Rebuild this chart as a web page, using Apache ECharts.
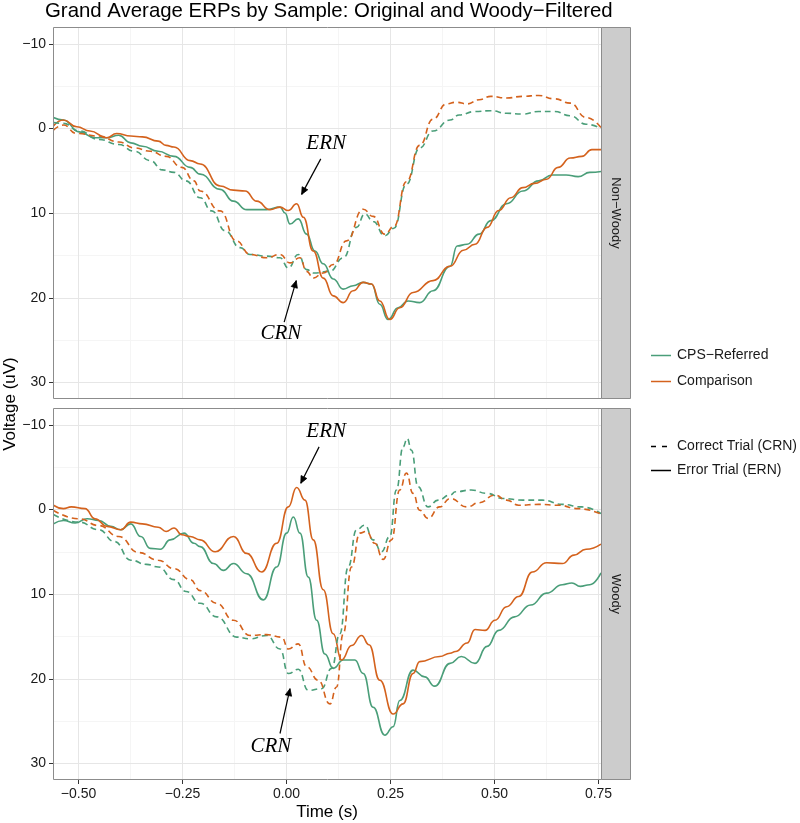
<!DOCTYPE html>
<html><head><meta charset="utf-8">
<script src="https://cdn.jsdelivr.net/npm/echarts@6/dist/echarts.min.js"></script>
<style>html,body{margin:0;padding:0;background:#fff}#c{width:800px;height:823px}</style>
</head><body><div id="c"></div>
<script>
// ---------- data: [time (s), voltage (uV)] ----------
const nonWoodyCpsErn = [[-0.559,-1.3],[-0.535,-1.0],[-0.497,0.4],[-0.459,1.1],[-0.43,1.1],[-0.402,0.8],[-0.373,1.7],[-0.345,2.1],[-0.307,2.7],[-0.269,3.3],[-0.23,4.6],[-0.206,5.4],[-0.158,7.2],[-0.126,8.6],[-0.094,9.6],[-0.046,9.6],[-0.014,9.3],[-0.002,10.0],[0.01,11.3],[0.03,10.7],[0.05,12.5],[0.07,14.5],[0.09,16.0],[0.114,17.8],[0.138,19.0],[0.162,18.6],[0.186,18.2],[0.206,18.4],[0.226,20.8],[0.246,22.6],[0.27,21.2],[0.294,20.4],[0.322,20.6],[0.354,19.2],[0.395,16.3],[0.412,13.9],[0.436,13.7],[0.465,12.5],[0.493,10.9],[0.531,8.9],[0.57,7.4],[0.608,6.2],[0.641,5.5],[0.674,5.5],[0.703,5.7],[0.731,5.2],[0.758,5.1]];
const nonWoodyCompErn = [[-0.559,-0.3],[-0.535,-1.0],[-0.503,-0.2],[-0.471,0.3],[-0.431,1.1],[-0.407,0.6],[-0.373,0.9],[-0.345,1.0],[-0.307,1.5],[-0.288,2.0],[-0.269,2.2],[-0.23,3.8],[-0.206,4.2],[-0.158,6.8],[-0.126,7.3],[-0.098,7.4],[-0.07,8.6],[-0.038,9.6],[-0.014,9.3],[0.006,9.7],[0.026,8.9],[0.042,10.5],[0.066,14.5],[0.09,17.7],[0.114,19.8],[0.138,20.6],[0.162,19.2],[0.186,18.2],[0.206,18.4],[0.226,20.4],[0.25,22.6],[0.274,21.2],[0.306,19.4],[0.354,18.0],[0.395,16.3],[0.427,14.4],[0.455,13.7],[0.484,11.7],[0.512,9.7],[0.541,8.2],[0.57,7.0],[0.598,6.5],[0.627,6.0],[0.655,4.6],[0.684,3.5],[0.712,3.3],[0.736,2.5],[0.758,2.5]];
const nonWoodyCpsCrn = [[-0.559,-0.7],[-0.535,-0.6],[-0.497,0.3],[-0.45,1.3],[-0.402,1.9],[-0.364,2.7],[-0.326,3.8],[-0.297,4.9],[-0.269,5.2],[-0.24,6.2],[-0.206,8.2],[-0.178,9.75],[-0.146,12.1],[-0.11,14.1],[-0.086,14.9],[-0.046,15.1],[-0.014,15.3],[0.006,16.5],[0.03,14.9],[0.05,16.7],[0.067,17.1],[0.106,16.9],[0.138,15.3],[0.17,11.7],[0.19,10.1],[0.21,11.0],[0.238,12.7],[0.26,11.8],[0.29,6.6],[0.322,2.3],[0.354,0.3],[0.395,-1.0],[0.417,-1.6],[0.455,-2.0],[0.493,-2.1],[0.531,-1.8],[0.57,-1.7],[0.608,-2.0],[0.646,-2.0],[0.684,-1.5],[0.722,-0.5],[0.758,0.0]];
const nonWoodyCompCrn = [[-0.559,0.2],[-0.535,-0.4],[-0.503,0.6],[-0.45,0.9],[-0.402,1.6],[-0.364,2.3],[-0.326,2.7],[-0.288,3.3],[-0.25,4.6],[-0.221,6.2],[-0.206,7.4],[-0.158,9.75],[-0.119,13.3],[-0.086,14.9],[-0.046,15.3],[-0.014,14.9],[0.01,15.9],[0.034,15.3],[0.05,16.9],[0.066,17.7],[0.09,17.1],[0.114,16.1],[0.146,13.3],[0.186,9.55],[0.21,10.4],[0.238,12.5],[0.26,11.6],[0.29,6.3],[0.322,2.0],[0.354,-1.1],[0.386,-2.9],[0.41,-3.1],[0.436,-2.9],[0.465,-3.4],[0.493,-3.8],[0.531,-3.6],[0.57,-3.8],[0.608,-3.9],[0.646,-3.5],[0.684,-3.0],[0.722,-1.3],[0.758,-0.1]];

const woodyCpsErn = [[-0.559,1.7],[-0.535,1.3],[-0.507,1.6],[-0.478,1.1],[-0.45,1.3],[-0.421,2.0],[-0.397,2.4],[-0.373,1.7],[-0.349,3.2],[-0.326,4.6],[-0.302,4.7],[-0.278,3.6],[-0.245,2.8],[-0.221,4.0],[-0.206,4.4],[-0.174,6.4],[-0.15,7.2],[-0.126,6.4],[-0.094,7.6],[-0.054,10.7],[-0.022,6.8],[0.002,2.8],[0.018,0.9],[0.034,2.8],[0.054,8.0],[0.074,13.1],[0.094,17.1],[0.114,18.8],[0.138,17.8],[0.166,17.8],[0.186,19.4],[0.21,23.4],[0.238,26.7],[0.258,25.7],[0.274,22.6],[0.306,19.0],[0.334,19.8],[0.358,20.9],[0.395,18.2],[0.422,17.4],[0.455,18.2],[0.484,16.2],[0.512,14.3],[0.55,12.7],[0.589,11.3],[0.627,9.9],[0.665,8.9],[0.688,8.7],[0.708,9.1],[0.731,8.9],[0.758,7.5]];
const woodyCompErn = [[-0.559,-0.5],[-0.535,-0.1],[-0.516,-0.3],[-0.483,-0.1],[-0.459,1.1],[-0.43,2.0],[-0.397,2.4],[-0.373,1.5],[-0.345,1.7],[-0.307,2.1],[-0.288,2.6],[-0.269,2.2],[-0.25,3.0],[-0.23,3.2],[-0.206,3.6],[-0.17,5.0],[-0.126,3.2],[-0.094,5.2],[-0.058,7.4],[-0.022,4.0],[0.006,-0.3],[0.026,-2.6],[0.046,-1.1],[0.066,3.6],[0.09,9.5],[0.114,14.7],[0.134,17.8],[0.158,16.1],[0.182,14.9],[0.2,16.0],[0.226,20.2],[0.258,24.2],[0.282,23.0],[0.306,19.4],[0.322,18.0],[0.37,17.4],[0.395,17.0],[0.408,16.8],[0.436,15.8],[0.455,14.2],[0.479,14.3],[0.503,13.1],[0.531,11.5],[0.56,10.3],[0.593,7.4],[0.627,6.3],[0.665,6.4],[0.693,5.4],[0.722,4.7],[0.758,4.1]];
const woodyCpsCrn = [[-0.559,0.6],[-0.497,1.5],[-0.45,2.4],[-0.412,3.8],[-0.373,6.0],[-0.335,6.5],[-0.307,6.8],[-0.269,8.3],[-0.24,9.7],[-0.206,11.1],[-0.166,12.7],[-0.118,15.1],[-0.086,15.3],[-0.046,14.9],[-0.014,16.5],[0.006,19.4],[0.03,18.9],[0.054,21.4],[0.086,21.2],[0.11,18.8],[0.13,14.7],[0.15,6.8],[0.17,2.4],[0.19,1.85],[0.21,3.6],[0.23,5.0],[0.25,3.2],[0.266,-2.3],[0.282,-7.4],[0.292,-8.4],[0.302,-7.0],[0.318,-2.7],[0.342,-0.3],[0.366,-1.1],[0.395,-1.7],[0.408,-2.1],[0.446,-2.3],[0.484,-1.9],[0.522,-1.3],[0.57,-1.1],[0.617,-1.1],[0.665,-0.6],[0.712,-0.3],[0.758,0.5]];
const woodyCompCrn = [[-0.559,0.1],[-0.497,1.1],[-0.45,1.9],[-0.402,3.2],[-0.354,5.1],[-0.307,6.0],[-0.269,7.0],[-0.23,8.3],[-0.206,9.6],[-0.166,11.1],[-0.126,13.1],[-0.086,14.9],[-0.046,14.8],[-0.01,15.1],[0.006,16.5],[0.03,15.9],[0.05,18.6],[0.078,20.2],[0.106,23.0],[0.122,21.0],[0.138,14.7],[0.158,6.8],[0.178,2.8],[0.194,2.6],[0.214,4.0],[0.234,5.9],[0.254,3.6],[0.274,-2.3],[0.29,-4.3],[0.306,-1.9],[0.322,0.1],[0.342,1.05],[0.37,-0.3],[0.395,-1.3],[0.436,-0.3],[0.465,-0.8],[0.503,-1.7],[0.531,-1.1],[0.56,-0.5],[0.608,-0.6],[0.655,-0.5],[0.703,-0.1],[0.758,0.55]];

const panelNames = ['Non\u2212Woody', 'Woody'];
const groupNames = ['CPS\u2212Referred', 'Comparison'];
const trialNames = ['Correct Trial (CRN)', 'Error Trial (ERN)'];
const xTicks = [-0.5, -0.25, 0, 0.25, 0.5, 0.75];
const xMinor = [-0.375, -0.125, 0.125, 0.375, 0.625];
const yTicks = [-10, 0, 10, 20, 30];
const yMinor = [-5, 5, 15, 25];
const xRange = [-0.56, 0.758];
const yRange = [-12, 32];
// annotations: [panel, label, textX, textY, arrowFromX, arrowFromY, arrowToX, arrowToY]
const notes = [
  [0, 'ERN', 0.097, 1.8, 0.084, 3.6, 0.038, 7.8],
  [0, 'CRN', -0.012, 24.3, -0.004, 22.9, 0.025, 18.0],
  [1, 'ERN', 0.097, -9.2, 0.080, -7.4, 0.036, -3.1],
  [1, 'CRN', -0.036, 28.0, -0.014, 26.5, 0.010, 21.2]
];

const GREEN = '#4a9e79', ORANGE = '#d4621d';
const FONT = '"Liberation Sans", Arial, Helvetica, sans-serif';
const minus = v => String(v).replace('-', '\u2212');

const grids = [
  {left: 53, top: 27, width: 548, height: 372},
  {left: 53, top: 408, width: 548, height: 372}
];

const option = {
  animation: false,
  backgroundColor: '#fff',
  grid: grids.map(g => Object.assign({show: true, backgroundColor: '#fff', borderWidth: 0, containLabel: false}, g)),
  xAxis: [0, 1].map(i => ({
    type: 'value', gridIndex: i, min: xRange[0], max: xRange[1],
    axisLine: {show: false}, splitLine: {show: false}, axisTick: {show: false}, axisLabel: {show: false}
  })),
  yAxis: [0, 1].map(i => ({
    type: 'value', gridIndex: i, min: yRange[0], max: yRange[1], inverse: true,
    axisLine: {show: false}, splitLine: {show: false}, axisTick: {show: false}, axisLabel: {show: false}
  })),
  series: []
};

const seriesDefs = [
  [0, nonWoodyCpsErn, GREEN, 'solid'],
  [0, nonWoodyCompErn, ORANGE, 'solid'],
  [0, nonWoodyCpsCrn, GREEN, [6, 4]],
  [0, nonWoodyCompCrn, ORANGE, [6, 4]],
  [1, woodyCpsErn, GREEN, 'solid'],
  [1, woodyCompErn, ORANGE, 'solid'],
  [1, woodyCpsCrn, GREEN, [6, 4]],
  [1, woodyCompCrn, ORANGE, [6, 4]]
];
seriesDefs.forEach(([g, data, color, type]) => {
  option.series.push({
    type: 'line', xAxisIndex: g, yAxisIndex: g, data: data,
    showSymbol: false, symbol: 'none', smooth: 0.5, smoothMonotone: 'x',
    lineStyle: {color: color, width: 1.6, type: type},
    z: 3, silent: true, clip: true
  });
});

const chart = echarts.init(document.getElementById('c'), null, {renderer: 'canvas'});
chart.setOption(option);

const px = (g, x, y) => chart.convertToPixel({gridIndex: g}, [x, y]);
const gfx = [];
[0, 1].forEach(g => {
  const gr = grids[g];
  const L = gr.left, T = gr.top, R = gr.left + gr.width, B = gr.top + gr.height;
  const addV = (v, col) => { const x = Math.round(px(g, v, 0)[0]) + 0.5;
    gfx.push({type: 'line', z: 1, silent: true, shape: {x1: x, y1: T, x2: x, y2: B}, style: {stroke: col, lineWidth: 1}}); };
  const addH = (v, col) => { const y = Math.round(px(g, 0, v)[1]) + 0.5;
    gfx.push({type: 'line', z: 1, silent: true, shape: {x1: L, y1: y, x2: R, y2: y}, style: {stroke: col, lineWidth: 1}}); };
  xMinor.forEach(v => addV(v, '#f5f5f5'));
  yMinor.forEach(v => addH(v, '#f5f5f5'));
  xTicks.forEach(v => addV(v, '#e6e6e6'));
  yTicks.forEach(v => addH(v, '#e6e6e6'));
  // y ticks + labels
  yTicks.forEach(v => {
    const y = Math.round(px(g, 0, v)[1]) + 0.5;
    gfx.push({type: 'line', z: 6, silent: true, shape: {x1: L - 4, y1: y, x2: L, y2: y}, style: {stroke: '#333', lineWidth: 1}});
    gfx.push({type: 'text', z: 6, silent: true, style: {text: minus(v), x: L - 7, y: y, align: 'right', verticalAlign: 'middle',
      fontSize: 14, fontFamily: FONT, fill: '#1a1a1a'}});
  });
  if (g === 1) {
    xTicks.forEach(v => {
      const x = Math.round(px(g, v, 0)[0]) + 0.5;
      gfx.push({type: 'line', z: 6, silent: true, shape: {x1: x, y1: B, x2: x, y2: B + 4}, style: {stroke: '#333', lineWidth: 1}});
      gfx.push({type: 'text', z: 6, silent: true, style: {text: minus(v.toFixed(2)), x: x, y: B + 7, align: 'center', verticalAlign: 'top',
        fontSize: 14, fontFamily: FONT, fill: '#1a1a1a'}});
    });
  }
  // panel border
  gfx.push({type: 'rect', z: 6, silent: true, shape: {x: L + 0.5, y: T + 0.5, width: gr.width, height: gr.height - 1},
    style: {fill: null, stroke: '#8c8c8c', lineWidth: 1}});
  // strip
  gfx.push({type: 'rect', z: 6, silent: true, shape: {x: R + 0.5, y: T + 0.5, width: 29, height: gr.height - 1},
    style: {fill: '#cccccc', stroke: '#8c8c8c', lineWidth: 1}});
  gfx.push({type: 'text', z: 7, silent: true, x: R + 15, y: T + gr.height / 2, rotation: -Math.PI / 2,
    style: {text: panelNames[g], x: 0, y: 0, align: 'center', verticalAlign: 'middle', fontSize: 13, fontFamily: FONT, fill: '#1a1a1a'}});
});

// annotations
notes.forEach(([g, label, tx, ty, ax, ay, bx, by]) => {
  const t = px(g, tx, ty), a = px(g, ax, ay), b = px(g, bx, by);
  gfx.push({type: 'text', z: 8, silent: true,
    style: {text: label, x: t[0], y: t[1], align: 'center', verticalAlign: 'middle',
      font: 'italic 21px "Liberation Serif", "Times New Roman", serif', fill: '#000'}});
  gfx.push({type: 'line', z: 8, silent: true, shape: {x1: a[0], y1: a[1], x2: b[0], y2: b[1]}, style: {stroke: '#000', lineWidth: 1.2}});
  const dx = b[0] - a[0], dy = b[1] - a[1], len = Math.hypot(dx, dy);
  const ux = dx / len, uy = dy / len, HL = 7, HW = 3.2;
  gfx.push({type: 'polygon', z: 8, silent: true, shape: {points: [
    [b[0], b[1]],
    [b[0] - ux * HL - uy * HW, b[1] - uy * HL + ux * HW],
    [b[0] - ux * HL + uy * HW, b[1] - uy * HL - ux * HW]]}, style: {fill: '#000', stroke: '#000', lineWidth: 0.8}});
});

// titles
gfx.push({type: 'text', z: 8, silent: true, style: {text: 'Grand Average ERPs by Sample: Original and Woody\u2212Filtered',
  x: 45, y: 11, align: 'left', verticalAlign: 'middle', fontSize: 20.4, fontFamily: FONT, fill: '#000'}});
gfx.push({type: 'text', z: 8, silent: true, style: {text: 'Time (s)', x: 327, y: 812, align: 'center', verticalAlign: 'middle',
  fontSize: 17, fontFamily: FONT, fill: '#000'}});
gfx.push({type: 'text', z: 8, silent: true, x: 10, y: 404, rotation: Math.PI / 2,
  style: {text: 'Voltage (uV)', x: 0, y: 0, align: 'center', verticalAlign: 'middle', fontSize: 17, fontFamily: FONT, fill: '#000'}});

// legend
const legRows = [
  [groupNames[0], GREEN, null, 355],
  [groupNames[1], ORANGE, null, 381],
  [trialNames[0], '#000', [5, 6], 446],
  [trialNames[1], '#000', null, 470]
];
legRows.forEach(([txt, col, dash, y]) => {
  gfx.push({type: 'line', z: 8, silent: true, shape: {x1: 651, y1: y + 0.5, x2: 671, y2: y + 0.5},
    style: {stroke: col, lineWidth: 1.5, lineDash: dash}});
  gfx.push({type: 'text', z: 8, silent: true, style: {text: txt, x: 677, y: y, align: 'left', verticalAlign: 'middle',
    fontSize: 14, fontFamily: FONT, fill: '#1a1a1a'}});
});

chart.setOption({graphic: {elements: gfx}});
</script>
</body></html>
